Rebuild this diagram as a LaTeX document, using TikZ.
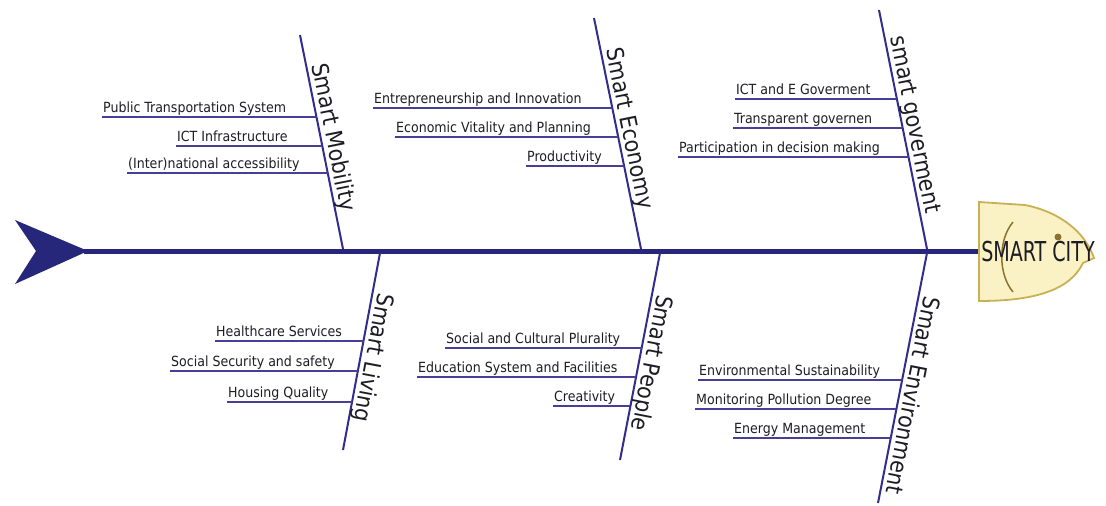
\documentclass[tikz,border=0pt]{standalone}
\usepackage{fontspec}
\setmainfont{DejaVu Sans Condensed}
\usetikzlibrary{calc}
\definecolor{navy}{RGB}{38,38,122}
\definecolor{bonec}{RGB}{50,45,140}
\definecolor{subc}{RGB}{72,62,150}
\definecolor{txt}{RGB}{28,28,36}
\definecolor{headfill}{RGB}{250,242,196}
\definecolor{headline}{RGB}{200,176,84}
\definecolor{gill}{RGB}{140,115,45}
\begin{document}
\begin{tikzpicture}[x=1pt,y=-1pt,
  spine/.style={line width=5pt, draw=navy},
  bone/.style={line width=2pt, draw=bonec},
  subline/.style={line width=1.8pt, draw=subc},
  sublabel/.style={font=\fontsize{14}{16}\selectfont, text=txt, anchor=south west,
    inner xsep=1pt, inner ysep=1.2pt, text depth=3.4pt, text height=10.5pt},
  bonelabel/.style={font=\fontsize{23}{26}\selectfont, text=txt, sloped, above,
    inner sep=0pt, text depth=4.5pt},
]
\useasboundingbox (0,0) rectangle (1106,506);

% tail and spine
\fill[navy] (15,220) -- (88,251) -- (15,284) -- (36,251) -- cycle;
\coordinate (tail) at (84,251);
\coordinate (headW) at (980,251);
\draw[spine] (tail) -- (headW);

% head
\filldraw[fill=headfill, draw=headline, line width=1.8pt]
  (979,202) -- (1025,205) .. controls (1060,212) and (1085,232) .. (1094,258)
  -- (1083,263) .. controls (1070,290) and (1035,301) .. (979,301) -- cycle;
\draw[gill, line width=1.5pt] (1013,222) .. controls (998,240) and (998,274) .. (1013,292);
\fill[gill] (1058,237) circle (3.5);
\node[font=\fontsize{27.4}{30}\selectfont, xscale=0.775, text=txt, inner sep=0pt] (city) at (1038,252) {SMART CITY};

% bones (top)
\coordinate (mobT) at (300,35);  \coordinate (mobB) at (343,249);
\coordinate (ecoT) at (594,18);  \coordinate (ecoB) at (641,249);
\coordinate (govT) at (879,10);  \coordinate (govB) at (927,249);
\draw[bone] (mobT) -- node[bonelabel,pos=0.49] (mobL) {Smart Mobility} (mobB);
\draw[bone] (ecoT) -- node[bonelabel,pos=0.49] (ecoL) {Smart Economy} (ecoB);
\draw[bone] (govT) -- node[bonelabel,pos=0.49] (govL) {smart goverment} (govB);

% bones (bottom)
\coordinate (livT) at (380,253); \coordinate (livB) at (343,450);
\coordinate (peoT) at (660,253); \coordinate (peoB) at (620,460);
\coordinate (envT) at (927,253); \coordinate (envB) at (878,503);
\draw[bone] (livT) -- node[bonelabel,allow upside down,pos=0.52] (livL) {Smart Living} (livB);
\draw[bone] (peoT) -- node[bonelabel,allow upside down,pos=0.52] (peoL) {Smart People} (peoB);
\draw[bone] (envT) -- node[bonelabel,allow upside down,pos=0.56] (envL) {Smart Environment} (envB);

% sub-branches: Mobility
\node[sublabel] (m1) at (102,117) {Public Transportation System};
\node[sublabel] (m2) at (176,146) {ICT Infrastructure};
\node[sublabel] (m3) at (127,173) {(Inter)national accessibility};
\coordinate (m1b) at (316.5,117); \coordinate (m2b) at (322.3,146); \coordinate (m3b) at (327.7,173);
% Economy
\node[sublabel] (e1) at (373,108) {Entrepreneurship and Innovation};
\node[sublabel] (e2) at (395,137) {Economic Vitality and Planning};
\node[sublabel] (e3) at (526,166) {Productivity};
\coordinate (e1b) at (612.3,108); \coordinate (e2b) at (618.2,137); \coordinate (e3b) at (624.1,166);
% Government
\node[sublabel] (g1) at (735,99) {ICT and E Goverment};
\node[sublabel] (g2) at (733,128) {Transparent governen};
\node[sublabel] (g3) at (678,157) {Participation in decision making};
\coordinate (g1b) at (896.9,99); \coordinate (g2b) at (902.7,128); \coordinate (g3b) at (908.5,157);
% Living
\node[sublabel] (l1) at (215,341) {Healthcare Services};
\node[sublabel] (l2) at (170,371) {Social Security and safety};
\node[sublabel] (l3) at (227,402) {Housing Quality};
\coordinate (l1b) at (363.5,341); \coordinate (l2b) at (357.8,371); \coordinate (l3b) at (352.0,402);
% People
\node[sublabel] (p1) at (445,348) {Social and Cultural Plurality};
\node[sublabel] (p2) at (417,377) {Education System and Facilities};
\node[sublabel] (p3) at (553,406) {Creativity};
\coordinate (p1b) at (641.6,348); \coordinate (p2b) at (636.0,377); \coordinate (p3b) at (630.4,406);
% Environment
\node[sublabel] (v1) at (698,380) {Environmental Sustainability};
\node[sublabel] (v2) at (695,409) {Monitoring Pollution Degree};
\node[sublabel] (v3) at (733,438) {Energy Management};
\coordinate (v1b) at (902.1,380); \coordinate (v2b) at (896.4,409); \coordinate (v3b) at (890.7,438);

\foreach \n in {m1,m2,m3,e1,e2,e3,g1,g2,g3,l1,l2,l3,p1,p2,p3,v1,v2,v3}
  \draw[subline] (\n.south west) -- (\n b);
\end{tikzpicture}
\end{document}
